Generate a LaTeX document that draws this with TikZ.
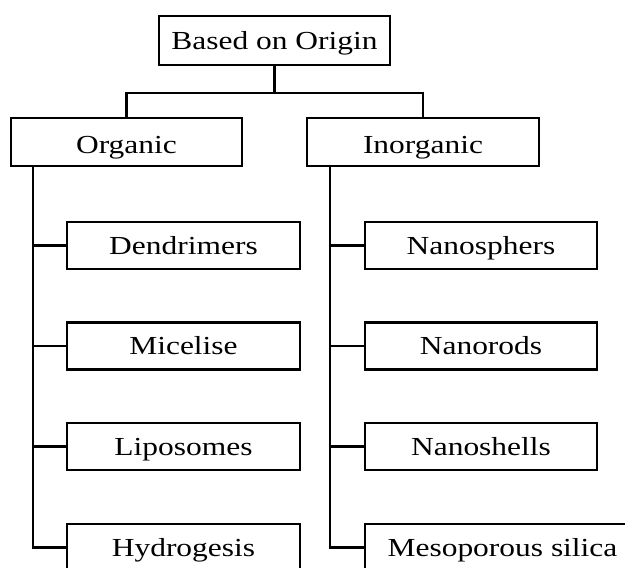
\documentclass[tikz,border=0pt]{standalone}
\usepackage{fontspec}
\setmainfont{Liberation Serif}
\usepackage{graphicx}
\begin{document}
\begin{tikzpicture}[x=1pt,y=-1pt,
  box/.style={draw=black,line width=2.3pt,fill=white,rectangle,inner sep=0pt,
    minimum height=47pt,text height=17pt,text depth=0pt,font=\fontsize{26}{28}\selectfont},
  conn/.style={draw=black,line width=2.3pt}]
\useasboundingbox (0,0) rectangle (625,568);
\clip (0,0) rectangle (625,568);
\fill[white] (0,0) rectangle (625,568);
\newcommand{\wt}[1]{\scalebox{1.21}[1]{#1}}
% nodes
\node[box,minimum width=231pt,minimum height=49pt] (top) at (274.5,40.5) {\wt{Based on Origin}};
\node[box,minimum width=231pt,minimum height=48pt] (org) at (126.5,142) {\raisebox{-2.5pt}{\wt{Organic}}};
\node[box,minimum width=232pt,minimum height=48pt] (inorg) at (423,142) {\raisebox{-2.5pt}{\wt{Inorganic}}};
\node[box,minimum width=233pt] (dend) at (183.5,245.5) {\wt{Dendrimers}};
\node[box,minimum width=233pt] (mic) at (183.5,346) {\wt{Micelise}};
\node[box,minimum width=233pt] (lip) at (183.5,446.5) {\wt{Liposomes}};
\node[box,minimum width=233pt] (hyd) at (183.5,547.5) {\wt{Hydrogesis}};
\node[box,minimum width=232pt] (nsph) at (481,245.5) {\wt{Nanosphers}};
\node[box,minimum width=232pt] (nrod) at (481,346) {\wt{Nanorods}};
\node[box,minimum width=232pt] (nshe) at (481,446.5) {\wt{Nanoshells}};
\node[box,minimum width=275pt] (meso) at (502.5,547.5) {\wt{Mesoporous silica}};
% connectors
\coordinate (j) at ([yshift=-27pt]top.south);
\draw[conn] (top.south) -- (j);
\draw[conn] (org.north) |- (j) -| (inorg.north);
\coordinate (lt) at ([xshift=23pt]org.south west);
\coordinate (rt) at ([xshift=24pt]inorg.south west);
\foreach \c in {dend,mic,lip,hyd} \draw[conn] (lt) |- (\c.west);
\foreach \c in {nsph,nrod,nshe,meso} \draw[conn] (rt) |- (\c.west);
\end{tikzpicture}
\end{document}
